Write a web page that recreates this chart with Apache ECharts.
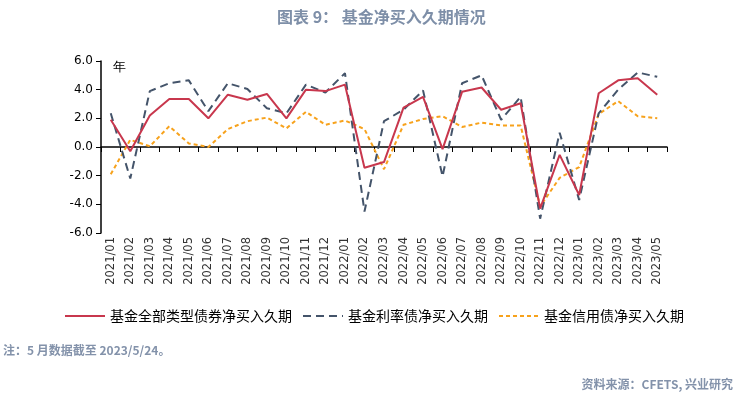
<!DOCTYPE html>
<html>
<head>
<meta charset="utf-8">
<script src="https://cdn.jsdelivr.net/npm/echarts@6/dist/echarts.min.js"></script>
<style>
  html, body { margin: 0; padding: 0; background: #fff; }
  #main { width: 739px; height: 399px; }
</style>
</head>
<body>
<div id="main"></div>
<script>
var chartDom = document.getElementById('main');
var myChart = echarts.init(chartDom);
var option;

// Month labels on the category axis
const months = [
  '2021/01', '2021/02', '2021/03', '2021/04', '2021/05', '2021/06',
  '2021/07', '2021/08', '2021/09', '2021/10', '2021/11', '2021/12',
  '2022/01', '2022/02', '2022/03', '2022/04', '2022/05', '2022/06',
  '2022/07', '2022/08', '2022/09', '2022/10', '2022/11', '2022/12',
  '2023/01', '2023/02', '2023/03', '2023/04', '2023/05'
];
// Net duration bought by funds (years)
const allBonds = [
  1.9, -0.3, 2.2, 3.35, 3.35, 2.0, 3.65, 3.3, 3.7, 2.0, 4.0, 3.9,
  4.35, -1.45, -1.05, 2.75, 3.5, -0.15, 3.85, 4.15, 2.6, 3.05, -4.3,
  -0.55, -3.35, 3.75, 4.65, 4.8, 3.65
];
const rateBonds = [
  2.35, -2.2, 3.9, 4.45, 4.65, 2.5, 4.45, 4.05, 2.7, 2.35, 4.35, 3.8,
  5.15, -4.5, 1.8, 2.6, 3.95, -2.05, 4.45, 5.0, 1.9, 3.5, -5.0,
  1.0, -3.7, 2.35, 4.0, 5.2, 4.9
];
const creditBonds = [
  -1.9, 0.5, 0.05, 1.45, 0.25, 0.0, 1.25, 1.8, 2.05, 1.3, 2.45, 1.55,
  1.85, 1.25, -1.55, 1.55, 1.95, 2.15, 1.4, 1.7, 1.5, 1.5, -4.15,
  -2.15, -1.4, 2.3, 3.2, 2.15, 2.0
];
const seriesNames = ['基金全部类型债券净买入久期', '基金利率债净买入久期', '基金信用债净买入久期'];

const cjk = "'Noto Sans CJK SC', sans-serif";

option = {
  animation: false,
  backgroundColor: '#fff',
  title: {
    text: '图表 9： 基金净买入久期情况',
    left: 272,
    top: 4,
    textStyle: { fontSize: 16, fontWeight: 'bold', color: '#7E8FA8', fontFamily: cjk }
  },
  legend: {
    left: 59,
    top: 304,
    itemWidth: 40,
    itemHeight: 14,
    itemGap: 10,
    itemStyle: { opacity: 0 },
    textStyle: { fontSize: 14, color: '#000', fontFamily: cjk },
    data: seriesNames
  },
  grid: { left: 101, right: 72, top: 61, bottom: 166 },
  xAxis: [
    {
      // labels along the bottom edge
      type: 'category',
      data: months,
      position: 'bottom',
      axisLine: { show: false, onZero: false },
      axisTick: { show: false },
      axisLabel: {
        interval: 0, rotate: 90, margin: 4,
        fontSize: 11.5, color: '#333', fontFamily: "'DejaVu Sans', sans-serif"
      }
    },
    {
      // axis line and ticks sitting on zero
      type: 'category',
      data: months,
      position: 'top',
      axisLine: { onZero: true, lineStyle: { color: '#000', width: 1.5 } },
      axisTick: { show: true, inside: true, length: 5, interval: 0, lineStyle: { color: '#000' } },
      axisLabel: { show: false }
    }
  ],
  yAxis: {
    type: 'value',
    min: -6,
    max: 6,
    interval: 2,
    axisLine: { show: true, lineStyle: { color: '#000', width: 1.5 } },
    axisTick: { show: true, length: 5, lineStyle: { color: '#000' } },
    splitLine: { show: false },
    axisLabel: {
      formatter: function (v) { return v.toFixed(1); },
      fontSize: 12, color: '#000', margin: 8, fontFamily: "'DejaVu Sans', sans-serif"
    }
  },
  series: [
    {
      name: seriesNames[0],
      type: 'line',
      xAxisIndex: 0,
      data: allBonds,
      symbol: 'none',
      itemStyle: { color: '#C8374D' },
      lineStyle: { color: '#C8374D', width: 2 },
      z: 3
    },
    {
      name: seriesNames[1],
      type: 'line',
      xAxisIndex: 0,
      data: rateBonds,
      symbol: 'none',
      itemStyle: { color: '#44546A' },
      lineStyle: { color: '#44546A', width: 2, type: [8, 5] },
      z: 2
    },
    {
      name: seriesNames[2],
      type: 'line',
      xAxisIndex: 0,
      data: creditBonds,
      symbol: 'none',
      itemStyle: { color: '#F7A21C' },
      lineStyle: { color: '#F7A21C', width: 2, type: [4, 3] },
      z: 1
    }
  ],
  graphic: [
    {
      type: 'text', left: 113, top: 61,
      style: { text: '年', fontSize: 13, fill: '#000', font: "13px 'Noto Serif CJK SC', 'Noto Sans CJK SC'" }
    },
    {
      type: 'text', left: 3, top: 344,
      style: { text: '注：5 月数据截至 2023/5/24。', fontSize: 12, fontWeight: 'bold', fill: '#8392AA', fontFamily: cjk }
    },
    {
      type: 'text', right: 6, top: 378,
      style: { text: '资料来源：CFETS, 兴业研究', fontSize: 12, fontWeight: 'bold', fill: '#8392AA', fontFamily: cjk }
    }
  ]
};

option && myChart.setOption(option);
</script>
</body>
</html>
